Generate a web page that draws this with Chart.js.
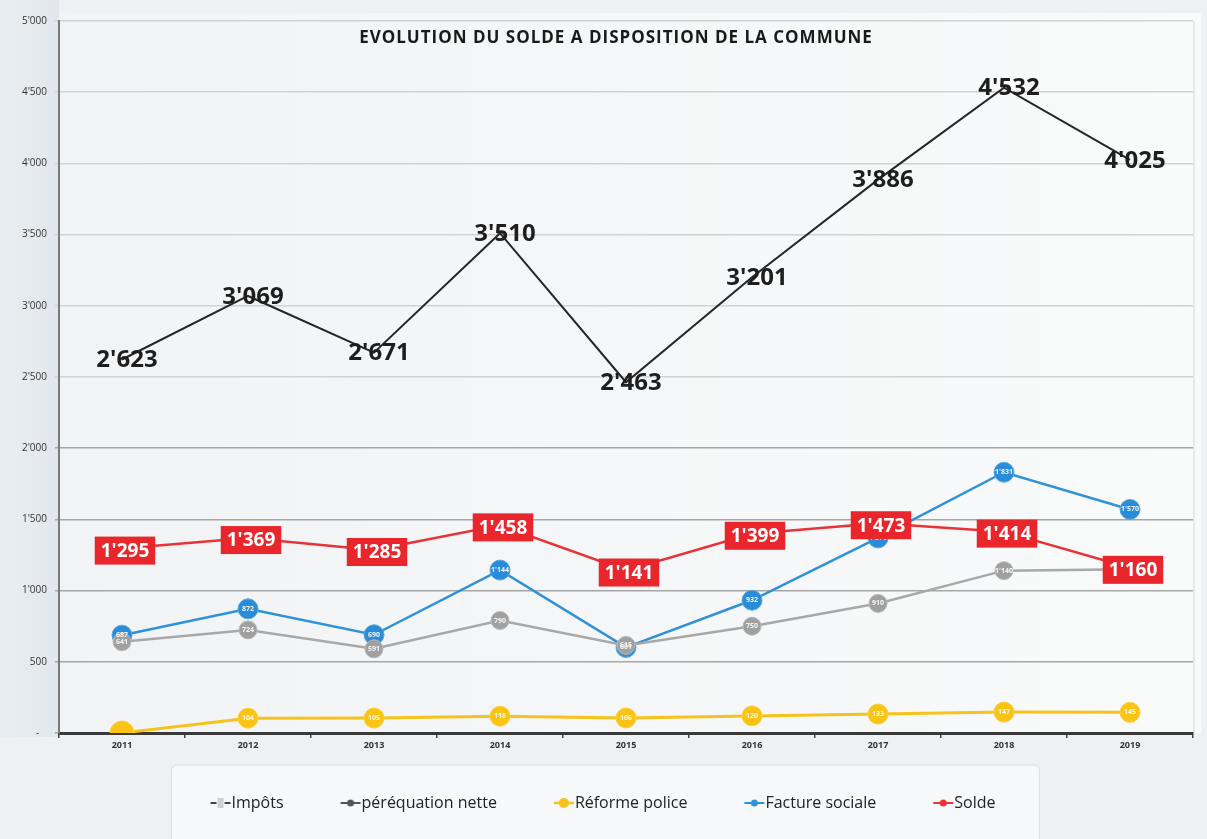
<!DOCTYPE html>
<html><head><meta charset="utf-8">
<script src="https://cdn.jsdelivr.net/npm/chart.js@4.4.1/dist/chart.umd.min.js"></script>
<style>html,body{margin:0;padding:0;background:#eceff2;}canvas{display:block}</style>
</head><body><canvas id="c" width="1207" height="839"></canvas>
<script>
const years = ['2011','2012','2013','2014','2015','2016','2017','2018','2019'];
const impots = [2623,3069,2671,3510,2463,3201,3886,4532,4025];
const perequation = [641,724,591,790,615,750,910,1140,1150];
const police = [0,104,105,118,106,120,133,147,145];
const facture = [687,872,690,1144,601,932,1370,1831,1570];
const solde = [1295,1369,1285,1458,1141,1399,1473,1414,1160];
const yTicks = [0,500,1000,1500,2000,2500,3000,3500,4000,4500,5000];
const title = 'EVOLUTION DU SOLDE A DISPOSITION DE LA COMMUNE';
const legendNames = ['Impôts','péréquation nette','Réforme police','Facture sociale','Solde'];

const C = {impots:'#262626', pereq:'#a8a8a8', police:'#f7c21b', facture:'#2f92d8', solde:'#e83336'};

function fmt(v){
  if (v === 0) return '-';
  if (v >= 1000) return Math.floor(v/1000) + "'" + String(v % 1000).padStart(3,'0');
  return String(v);
}

function marker(kind){
  const cv = document.createElement('canvas');
  cv.width = 42; cv.height = 14;
  const g = cv.getContext('2d');
  const y = 7, o = 20;
  if (kind === 0){
    g.strokeStyle = '#444'; g.lineWidth = 2;
    g.beginPath(); g.moveTo(o+1,y); g.lineTo(o+7,y); g.moveTo(o+15,y); g.lineTo(o+21,y); g.stroke();
    g.fillStyle = '#cfcfcf'; g.fillRect(o+8,2,6,10);
  } else {
    const col = [null,'#555555',C.police,C.facture,C.solde][kind];
    g.strokeStyle = col; g.lineWidth = kind===2?2.5:2;
    g.beginPath(); g.moveTo(o+1,y); g.lineTo(o+21,y); g.stroke();
    g.fillStyle = col;
    g.beginPath(); g.arc(o+11,y,kind===2?5:3.5,0,Math.PI*2); g.fill();
  }
  return cv;
}
const markers = [0,1,2,3,4].map(marker);

const bgPlugin = {
  id:'bg',
  beforeDraw(chart){
    const {ctx, chartArea:a, width, height} = chart;
    ctx.save();
    ctx.fillStyle = '#eef1f3'; ctx.fillRect(0,0,width,height);
    const lg = ctx.createLinearGradient(0,0,a.left,0);
    lg.addColorStop(0,'#e9eef2'); lg.addColorStop(1,'#e1e7ec');
    ctx.fillStyle = lg; ctx.fillRect(0,0,a.left,a.bottom+4);
    const pg = ctx.createLinearGradient(a.left,0,a.right,0);
    pg.addColorStop(0,'#f1f3f5'); pg.addColorStop(1,'#f9fafa');
    ctx.fillStyle = pg; ctx.fillRect(a.left,a.top-8,a.right-a.left+8,a.bottom-a.top+8);
    ctx.strokeStyle = '#d4d7da'; ctx.lineWidth = 1;
    ctx.beginPath(); ctx.moveTo(a.right+1,a.top); ctx.lineTo(a.right+1,a.bottom); ctx.stroke();
    const hb = chart.legend && chart.legend.legendHitBoxes;
    if (hb && hb.length){
      const l = Math.min(...hb.map(h=>h.left)) - 26;
      const r = Math.max(...hb.map(h=>h.left+h.width)) + 44;
      const cy = hb[0].top + hb[0].height/2;
      ctx.fillStyle = '#f7f8f9';
      ctx.strokeStyle = '#dcdfe2';
      ctx.beginPath();
      ctx.roundRect(l, cy-38, r-l, 84, 6);
      ctx.fill(); ctx.stroke();
    }
    ctx.restore();
  }
};

const labelPlugin = {
  id:'valueLabels',
  afterDatasetsDraw(chart){
    const ctx = chart.ctx;
    ctx.save();
    ctx.textAlign = 'center'; ctx.textBaseline = 'middle';
    [1,2,3].forEach(di=>{
      const meta = chart.getDatasetMeta(di);
      const data = chart.data.datasets[di].data;
      meta.data.forEach((pt,i)=>{
        if (data[i] === 0) return;
        ctx.font = 'bold 7px "Open Sans"';
        ctx.fillStyle = 'rgba(255,255,255,0.9)';
        ctx.fillText(fmt(data[i]), pt.x, pt.y);
      });
    });
    const sm = chart.getDatasetMeta(4);
    ctx.font = 'bold 19px "Open Sans"';
    sm.data.forEach((pt,i)=>{
      const t = fmt(solde[i]);
      const w = ctx.measureText(t).width + 12;
      const h = 28;
      const cx = pt.x + 3, cy = pt.y + 2;
      ctx.fillStyle = '#e8262b';
      ctx.fillRect(cx - w/2, cy - h/2, w, h);
      ctx.fillStyle = '#ffffff';
      ctx.fillText(t, cx, cy + 1);
    });
    const im = chart.getDatasetMeta(0);
    ctx.font = 'bold 24px "Open Sans"';
    ctx.fillStyle = '#1e1e1e';
    im.data.forEach((pt,i)=>{
      ctx.fillText(fmt(impots[i]), pt.x + 5, pt.y + 1);
    });
    ctx.restore();
  },
  afterDraw(chart){
    const {ctx, chartArea:a} = chart;
    ctx.save();
    ctx.font = 'bold 17px "Open Sans"';
    if ('letterSpacing' in ctx) ctx.letterSpacing = '1px';
    ctx.fillStyle = '#1a1a1a';
    ctx.textAlign = 'center'; ctx.textBaseline = 'middle';
    ctx.fillText(title, (a.left + a.right)/2 - 10, a.top + 17);
    ctx.restore();
  }
};

new Chart(document.getElementById('c'), {
  type:'line',
  data:{
    labels: years,
    datasets:[
      {label:legendNames[0], data:impots, borderColor:C.impots, backgroundColor:C.impots, borderWidth:2, pointRadius:0, pointHoverRadius:0, tension:0},
      {label:legendNames[1], data:perequation, borderColor:C.pereq, backgroundColor:'#a3a3a3', borderWidth:2.5, pointRadius:9, pointBackgroundColor:'#a0a0a0', pointBorderColor:'#b8b8b8', pointBorderWidth:1, tension:0},
      {label:legendNames[2], data:police, borderColor:C.police, backgroundColor:C.police, borderWidth:3, pointRadius:[12,10,10,10,10,10,10,10,10], pointBackgroundColor:'#fbc314', pointBorderColor:'#fcd040', pointBorderWidth:1, tension:0},
      {label:legendNames[3], data:facture, borderColor:C.facture, backgroundColor:C.facture, borderWidth:2.5, pointRadius:10, pointBackgroundColor:'#2a8cd6', pointBorderColor:'#5aaae3', pointBorderWidth:1, tension:0},
      {label:legendNames[4], data:solde, borderColor:C.solde, backgroundColor:C.solde, borderWidth:2.5, pointRadius:0, tension:0}
    ]
  },
  options:{
    responsive:false,
    animation:false,
    devicePixelRatio:1,
    layout:{padding:{top:21, right:14, bottom:18, left:0}},
    plugins:{
      title:{display:false},
      tooltip:{enabled:false},
      legend:{
        display:true, position:'bottom',
        labels:{
          usePointStyle:true, pointStyleWidth:26, padding:44,
          font:{family:'"Open Sans"', size:16}, color:'#222',
          generateLabels(chart){
            return chart.data.datasets.map((ds,i)=>({
              text: ds.label, pointStyle: markers[i], fillStyle: ds.borderColor,
              strokeStyle: ds.borderColor, lineWidth:0, datasetIndex:i, hidden:false, fontColor:'#222'
            }));
          }
        }
      }
    },
    scales:{
      x:{
        offset:true,
        grid:{offset:true, drawOnChartArea:false, drawTicks:true, tickLength:5, color:'#444', lineWidth:1.5},
        border:{color:'#3a3a3a', width:3},
        ticks:{font:{family:'"Open Sans"', size:9, weight:'bold'}, color:'#333', padding:2, maxRotation:0},
        afterFit(s){ s.height = 18; }
      },
      y:{
        min:0, max:5000,
        afterBuildTicks(s){ s.ticks = yTicks.map(v=>({value:v})); },
        ticks:{font:{family:'"Open Sans"', size:10}, color:'#333', padding:8,
          callback:(v)=> v===0 ? '-   ' : fmt(v)},
        grid:{color:(c)=> (c.tick && c.tick.value <= 2000) ? '#a6a6a6' : '#d2d2d2', lineWidth:1.5, drawTicks:true, tickLength:4},
        border:{color:'#7a7a7a', width:2},
        afterFit(s){ s.width = 59; }
      }
    }
  },
  plugins:[bgPlugin, labelPlugin]
});
</script>
</body></html>
